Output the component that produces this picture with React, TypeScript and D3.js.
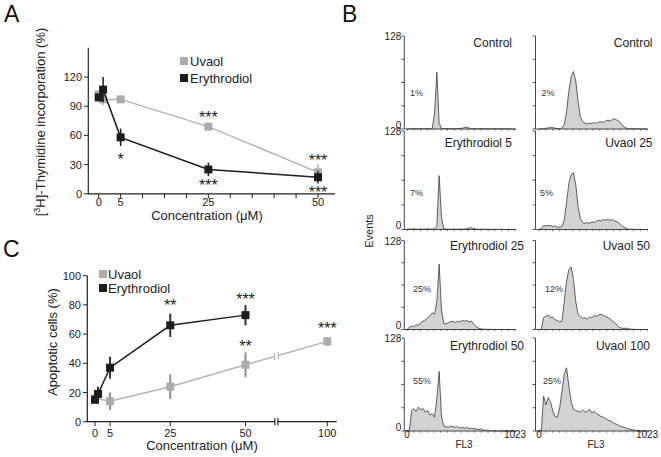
import React from 'react';
import * as d3 from 'd3';

const FONT = "'Liberation Sans', Arial, Helvetica, sans-serif";

// ---------- Panel A : [3H]-thymidine incorporation ----------
const concA = [0, 1, 5, 25, 50];
const uvaolA = [102, 97, 97, 69, 22];
const uvaolAErr = [3, 6, 3, 4, 8];
const erythA = [99, 107, 58, 25, 17];
const erythAErr = [3, 13, 9, 7, 6.5];
const xTicksA = [0, 5, 25, 50];
const xMinorA = [0, 5, 10, 15, 20, 25, 30, 35, 40, 45, 50];
const yTicksA = [0, 30, 60, 90, 120];
const starConcA = [25, 5, 25, 50, 50];
const starYA = [82, 39, 12, 38, 5];
const starTextA = ['***', '*', '***', '***', '***'];

// ---------- Panel C : apoptotic cells ----------
const concCU = [0, 5, 25, 50, 100];
const uvaolC = [16, 14, 24, 39, 55];
const uvaolCErr = [2, 6, 8.5, 8.5, 3];
const concCE = [0, 1, 5, 25, 50];
const erythC = [15, 19, 37, 66, 73];
const erythCErr = [2, 5, 7.5, 8, 7];
const xTicksC = [0, 5, 25, 50, 100];
const yTicksC = [0, 20, 40, 60, 80, 100];
const breakC = 60.6;
const starConcC = [25, 50, 50, 100];
const starYC = [82, 86, 54, 66];
const starTextC = ['**', '***', '**', '***'];

// ---------- Panel B : DNA histograms (48 bins over FL3 0..1023) ----------
const histTitles = ['Control', 'Control', 'Erythrodiol 5', 'Uvaol 25', 'Erythrodiol 25', 'Uvaol 50', 'Erythrodiol 50', 'Uvaol 100'];
const histPct = ['1%', '2%', '7%', '5%', '25%', '12%', '55%', '25%'];
const histCtrlE = [0, 0.3, 0.5, 0.3, 0.6, 0.3, 0.5, 0.3, 0.4, 0.6, 0.3, 1, 22, 78, 8, 0.8, 0.5, 0.3, 0.6, 0.4, 0.5, 0.3, 0.6, 0.8, 1, 2, 2.5, 1.2, 0.5, 0.4, 0.6, 0.3, 0.5, 0.4, 0.3, 0.5, 0.3, 0.4, 0.3, 0.2, 0.3, 0.2, 0.3, 0.2, 0.1, 0.2, 0, 0];
const histCtrlU = [0, 0.3, 0.5, 1, 1.5, 2.2, 2, 1.2, 0.6, 0.5, 1.5, 6, 24, 52, 72, 79, 66, 38, 17, 10, 8, 7, 8, 7.5, 9, 8, 9.5, 10, 9, 11, 12, 11, 13, 14, 12, 10, 6, 3, 1.2, 0.6, 0.4, 0.3, 0.2, 0.2, 0.1, 0, 0, 0];
const histE5 = [0.3, 0.6, 0.4, 0.8, 0.5, 0.3, 0.7, 0.4, 0.5, 0.8, 0.4, 0.6, 0.8, 4, 70, 16, 1, 0.5, 0.4, 0.6, 0.3, 0.5, 0.4, 0.6, 0.5, 0.7, 1, 1.8, 2.5, 1.2, 0.5, 0.3, 0.4, 0.3, 0.5, 0.2, 0.3, 0.2, 0.3, 0.2, 0.1, 0.2, 0.1, 0, 0.1, 0, 0, 0];
const histU25 = [0, 1, 5, 4.5, 5.5, 5, 4, 4.5, 3, 3, 4, 12, 35, 60, 71, 74, 58, 30, 14, 9, 8, 9, 8, 10, 9, 11, 12, 11, 13, 12, 13, 12, 13, 11, 10, 8, 5, 3, 1.5, 0.6, 0.3, 0.2, 0.2, 0.1, 0, 0, 0, 0];
const histE25 = [0, 3, 5, 4, 7, 6, 10, 12, 14, 17, 20, 24, 22, 40, 94, 28, 9, 8, 10, 11, 12, 10, 12, 11, 13, 12, 13, 11, 12, 8, 4, 2, 1, 0.5, 0.3, 0.2, 0.2, 0.1, 0.1, 0, 0, 0, 0, 0, 0, 0, 0, 0];
const histU50 = [0, 0, 17, 19, 21, 17, 18, 14, 13, 11, 12, 40, 70, 86, 90, 72, 40, 22, 18, 16, 17, 15, 18, 17, 20, 19, 21, 22, 20, 19, 17, 15, 12, 10, 6, 3, 2, 1.5, 2, 1, 0.5, 0.3, 0.2, 0.1, 0, 0, 0, 0];
const histE50 = [0, 0, 28, 31, 27, 33, 29, 31, 26, 28, 22, 24, 19, 45, 82, 20, 7, 6, 5, 7, 6, 5, 6, 4, 5, 4, 5, 3, 4, 3, 3, 2, 3, 1.5, 1, 1, 0.5, 0.3, 0.2, 0.2, 0.1, 0, 0, 0, 0, 0, 0, 0];
const histU100 = [0, 0, 48, 36, 46, 40, 28, 20, 19, 32, 55, 78, 87, 62, 40, 30, 28, 27, 26, 29, 26, 27, 30, 25, 27, 24, 22, 20, 19, 17, 15, 14, 12, 10, 9, 7, 6, 5, 4, 3, 2, 1.5, 1, 0.5, 0.3, 0.1, 0, 0];
const hists = [histCtrlE, histCtrlU, histE5, histU25, histE25, histU50, histE50, histU100];
const histYTicks = [0, 32, 64, 96, 128];
const histXTicks = [0, 64, 128, 192, 256, 320, 384, 448, 512, 576, 640, 704, 768, 832, 896, 960, 1023];

// ---------- layout (positions/styles) ----------
const GRAY = '#ababab';
const GRAY_LINE = '#b3b3b3';
const BLACK = '#1c1c1c';
const rowTop = [36, 131, 240.5, 338];
const rowBottom = [129, 229.5, 329.5, 431];
const colX0 = [407, 539];
const colAxisX = [404.3, 535.5];
const histW = 108;
const titleRight = [[512, 652.5], [512, 652.5], [524, 650], [524, 650]];
const titleBase = [47, 147, 250, 350];
const pctX = [[410, 541.5], [410, 540], [413, 545], [413, 543]];
const pctBase = [96, 196, 292, 384];

function Square({ x, y, s, fill }: { x: number; y: number; s: number; fill: string }) {
  return <rect x={x - s / 2} y={y - s / 2} width={s} height={s} fill={fill} />;
}

export default function App() {
  // Panel A scales
  const xA = d3.scaleLinear().domain([0, 50]).range([98.7, 318]);
  const yA = d3.scaleLinear().domain([0, 150]).range([193.8, 47.8]);
  const lineA = d3.line<number>().x((d, i) => xA(concA[i])).y((d) => yA(d));

  // Panel C scales (broken x axis)
  const xC = d3.scaleLinear().domain([0, 60, 100]).range([95, 275.6, 327.3]);
  const yC = d3.scaleLinear().domain([0, 100]).range([421.7, 275.7]);
  const lineCE = d3.line<number>().x((d, i) => xC(concCE[i])).y((d) => yC(d));
  const lineCU4 = d3.line<number>().x((d, i) => xC(concCU[i])).y((d) => yC(d));
  const bx = xC(breakC);
  const p50 = [xC(concCU[3]), yC(uvaolC[3])];
  const p100 = [xC(concCU[4]), yC(uvaolC[4])];
  const lerpY = (x: number) => p50[1] + ((x - p50[0]) / (p100[0] - p50[0])) * (p100[1] - p50[1]);
  const g1 = bx - 1.8, g2 = bx + 1.8;

  const fs = 11;
  const starFs = 16;

  return (
    <svg width={661} height={457} style={{ position: 'absolute', left: 0, top: 0 }} fontFamily={FONT}>
      <rect width={661} height={457} fill="#fff" />

      {/* ===== Panel A ===== */}
      <text x={4} y={22} fontSize={23} fill="#111">A</text>
      <line x1={88.3} x2={88.3} y1={yA(150)} y2={yA(0) + 0.5} stroke="#222" strokeWidth={1.2} />
      <line x1={88.3} x2={335} y1={yA(0)} y2={yA(0)} stroke="#222" strokeWidth={1.2} />
      {yTicksA.map((t) => (
        <g key={'ya' + t}>
          <line x1={84} x2={88.3} y1={yA(t)} y2={yA(t)} stroke="#222" strokeWidth={1} />
          <text x={82} y={yA(t) + 4} fontSize={fs} textAnchor="end" fill="#222">{t}</text>
        </g>
      ))}
      {xMinorA.map((t) => (
        <line key={'xma' + t} x1={xA(t)} x2={xA(t)} y1={yA(0)} y2={yA(0) + 4.5} stroke="#222" strokeWidth={1} />
      ))}
      {xTicksA.map((t) => (
        <text key={'xa' + t} x={xA(t)} y={206} fontSize={fs} textAnchor="middle" fill="#222">{t}</text>
      ))}
      <text x={207} y={220} fontSize={13} textAnchor="middle" fill="#222">Concentration (μM)</text>
      <text transform="translate(45,122) rotate(-90)" fontSize={13} textAnchor="middle" fill="#222">
        [<tspan fontSize={9} dy={-5}>3</tspan><tspan dy={5}>H]-Thymidine incorporation (%)</tspan>
      </text>
      {/* uvaol */}
      <path d={lineA(uvaolA) || ''} fill="none" stroke={GRAY_LINE} strokeWidth={1.5} />
      {uvaolA.map((v, i) => (
        <line key={'ea-u' + i} x1={xA(concA[i])} x2={xA(concA[i])} y1={yA(v - uvaolAErr[i])} y2={yA(v + uvaolAErr[i])} stroke={GRAY} strokeWidth={1.5} />
      ))}
      {uvaolA.map((v, i) => <Square key={'ma-u' + i} x={xA(concA[i])} y={yA(v)} s={8} fill={GRAY} />)}
      {/* erythrodiol */}
      <path d={lineA(erythA) || ''} fill="none" stroke={BLACK} strokeWidth={1.5} />
      {erythA.map((v, i) => (
        <line key={'ea-e' + i} x1={xA(concA[i])} x2={xA(concA[i])} y1={yA(v - erythAErr[i])} y2={yA(v + erythAErr[i])} stroke={BLACK} strokeWidth={1.5} />
      ))}
      {erythA.map((v, i) => <Square key={'ma-e' + i} x={xA(concA[i])} y={yA(v)} s={8} fill={BLACK} />)}
      {starTextA.map((s, i) => (
        <text key={'sa' + i} x={xA(starConcA[i])} y={yA(starYA[i]) + 9} fontSize={starFs} textAnchor="middle" fill="#222">{s}</text>
      ))}
      {/* legend A */}
      <Square x={184} y={61} s={8} fill={GRAY} />
      <text x={190} y={66} fontSize={13} fill="#222">Uvaol</text>
      <Square x={184} y={78} s={8} fill={BLACK} />
      <text x={190} y={83} fontSize={13} fill="#222">Erythrodiol</text>

      {/* ===== Panel C ===== */}
      <text x={3} y={257} fontSize={23} fill="#111">C</text>
      <line x1={87.3} x2={87.3} y1={yC(100)} y2={yC(0) + 0.5} stroke="#222" strokeWidth={1.2} />
      <line x1={87.3} x2={336.7} y1={yC(0)} y2={yC(0)} stroke="#222" strokeWidth={1.2} />
      {yTicksC.map((t) => (
        <g key={'yc' + t}>
          <line x1={83} x2={87.3} y1={yC(t)} y2={yC(t)} stroke="#222" strokeWidth={1} />
          <text x={81} y={yC(t) + 4} fontSize={fs} textAnchor="end" fill="#222">{t}</text>
        </g>
      ))}
      {xTicksC.map((t) => (
        <g key={'xc' + t}>
          <line x1={xC(t)} x2={xC(t)} y1={yC(0)} y2={yC(0) + 4.5} stroke="#222" strokeWidth={1} />
          <text x={xC(t)} y={437} fontSize={fs} textAnchor="middle" fill="#222">{t}</text>
        </g>
      ))}
      {/* axis break */}
      <rect x={bx - 1.2} y={yC(0) - 3} width={2.4} height={6} fill="#fff" />
      <line x1={bx - 1.5} x2={bx - 1.5} y1={yC(0) - 3.5} y2={yC(0) + 3.5} stroke="#222" strokeWidth={1.2} />
      <line x1={bx + 1.5} x2={bx + 1.5} y1={yC(0) - 3.5} y2={yC(0) + 3.5} stroke="#222" strokeWidth={1.2} />
      <text x={202} y={450} fontSize={13} textAnchor="middle" fill="#222">Concentration (μM)</text>
      <text transform="translate(57,342) rotate(-90)" fontSize={13} textAnchor="middle" fill="#222">Apoptotic cells (%)</text>
      {/* uvaol C */}
      <path d={lineCU4(uvaolC.slice(0, 4)) || ''} fill="none" stroke={GRAY_LINE} strokeWidth={1.5} />
      <line x1={p50[0]} y1={p50[1]} x2={g1} y2={lerpY(g1)} stroke={GRAY_LINE} strokeWidth={1.5} />
      <line x1={g2} y1={lerpY(g2)} x2={p100[0]} y2={p100[1]} stroke={GRAY_LINE} strokeWidth={1.5} />
      <line x1={g1} x2={g1} y1={lerpY(g1) - 3.5} y2={lerpY(g1) + 3.5} stroke={GRAY_LINE} strokeWidth={1.2} />
      <line x1={g2} x2={g2} y1={lerpY(g2) - 3.5} y2={lerpY(g2) + 3.5} stroke={GRAY_LINE} strokeWidth={1.2} />
      {uvaolC.map((v, i) => (
        <line key={'ec-u' + i} x1={xC(concCU[i])} x2={xC(concCU[i])} y1={yC(v - uvaolCErr[i])} y2={yC(v + uvaolCErr[i])} stroke="#8f8f8f" strokeWidth={2} />
      ))}
      {uvaolC.map((v, i) => <Square key={'mc-u' + i} x={xC(concCU[i])} y={yC(v)} s={8} fill={GRAY} />)}
      {/* erythrodiol C */}
      <path d={lineCE(erythC) || ''} fill="none" stroke={BLACK} strokeWidth={1.5} />
      {erythC.map((v, i) => (
        <line key={'ec-e' + i} x1={xC(concCE[i])} x2={xC(concCE[i])} y1={yC(v - erythCErr[i])} y2={yC(v + erythCErr[i])} stroke="#333" strokeWidth={2} />
      ))}
      {erythC.map((v, i) => <Square key={'mc-e' + i} x={xC(concCE[i])} y={yC(v)} s={8} fill={BLACK} />)}
      {starTextC.map((s, i) => (
        <text key={'sc' + i} x={xC(starConcC[i])} y={yC(starYC[i]) + 9} fontSize={starFs} textAnchor="middle" fill="#222">{s}</text>
      ))}
      {/* legend C */}
      <Square x={103} y={274} s={8} fill={GRAY} />
      <text x={108} y={278.5} fontSize={13} fill="#222">Uvaol</text>
      <Square x={103} y={288} s={8} fill={BLACK} />
      <text x={108} y={292.5} fontSize={13} fill="#222">Erythrodiol</text>

      {/* ===== Panel B ===== */}
      <text x={342} y={22} fontSize={23} fill="#111">B</text>
      <text transform="translate(373,231) rotate(-90)" fontSize={11} textAnchor="middle" fill="#222">Events</text>
      {hists.map((h, k) => {
        const row = Math.floor(k / 2);
        const col = k % 2;
        const x0 = colX0[col];
        const ax = colAxisX[col];
        const xs = d3.scaleLinear().domain([0, 1023]).range([x0, x0 + histW]);
        const ys = d3.scaleLinear().domain([0, 128]).range([rowBottom[row], rowTop[row]]);
        const chan = (i: number) => (i * 1023) / (h.length - 1);
        const area = d3.area<number>().x((d, i) => xs(chan(i))).y0(ys(0)).y1((d) => ys(d));
        const line = d3.line<number>().x((d, i) => xs(chan(i))).y((d) => ys(d));
        return (
          <g key={'h' + k}>
            <path d={area(h) || ''} fill="#d2d2d2" />
            <path d={line(h) || ''} fill="none" stroke="#3a3a3a" strokeWidth={0.8} />
            <line x1={ax} x2={ax} y1={ys(128)} y2={ys(0)} stroke="#333" strokeWidth={0.9} />
            <line x1={ax} x2={x0 + histW + 1} y1={ys(0)} y2={ys(0)} stroke="#333" strokeWidth={0.9} />
            {histYTicks.map((t) => (
              <line key={'hy' + t} x1={ax - 3} x2={ax} y1={ys(t)} y2={ys(t)} stroke="#333" strokeWidth={0.8} />
            ))}
            {histXTicks.map((t) => (
              <line key={'hx' + t} x1={xs(t)} x2={xs(t)} y1={ys(0)} y2={ys(0) + 1.8} stroke="#333" strokeWidth={0.6} />
            ))}
            {col === 0 && (
              <>
                <text x={ax - 3} y={ys(128) + 4} fontSize={10} textAnchor="end" fill="#222">128</text>
                <text x={ax - 3} y={ys(0) - 0.5} fontSize={10} textAnchor="end" fill="#222">0</text>
              </>
            )}
            {row === 3 && (
              <>
                <text x={xs(0)} y={438} fontSize={10} textAnchor="middle" fill="#222">0</text>
                <text x={xs(1023)} y={438} fontSize={10} textAnchor="middle" fill="#222">1023</text>
                <text x={xs(540)} y={448} fontSize={10} textAnchor="middle" fill="#222">FL3</text>
              </>
            )}
            <text x={titleRight[row][col]} y={titleBase[row]} fontSize={12} textAnchor="end" fill="#222">{histTitles[k]}</text>
            <text x={pctX[row][col]} y={pctBase[row]} fontSize={9} fill="#333">{histPct[k]}</text>
          </g>
        );
      })}
    </svg>
  );
}
